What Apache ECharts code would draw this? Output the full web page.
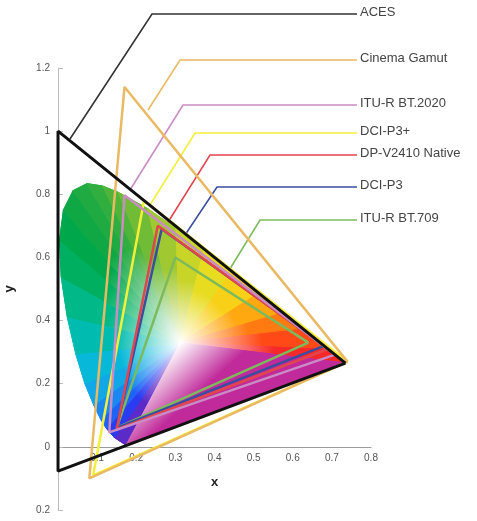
<!DOCTYPE html>
<html><head><meta charset="utf-8">
<script src="https://cdn.jsdelivr.net/npm/echarts@6/dist/echarts.min.js"></script>
<style>html,body{margin:0;background:#fff}#c{width:477px;height:521px}</style>
</head><body><div id="c"></div>
<script>
// spectral locus (x, y) and display colour
var locusX = [0.1741,0.1440,0.1241,0.1096,0.0913,0.0687,0.0454,0.0235,0.0082,0.0039,0.0139,0.0389,0.0743,0.1142,0.1547,0.2296,0.3016,0.3731,0.4441,0.5125,0.5752,0.6270,0.6915,0.7347];
var locusY = [0.0050,0.0297,0.0578,0.0868,0.1327,0.2007,0.2950,0.4127,0.5384,0.6548,0.7502,0.8120,0.8338,0.8262,0.8059,0.7543,0.6923,0.6245,0.5547,0.4866,0.4242,0.3725,0.3083,0.2653];
var locusColor = ['#5a2bc8','#2a3cf0','#1f63f5','#1988f0','#12a8e8','#08b8d8','#00bcb0','#00b888','#00b060','#00a84c','#10a845','#20aa42','#30ae40','#50b43a','#70bc36','#a0c830','#c8d428','#e8dc20','#f8d018','#ffa810','#ff7a10','#ff4a18','#f62828','#e81a3a'];
var purpleColor = '#c02a9a';

var names = ['ACES','Cinema Gamut','ITU-R BT.2020','DCI-P3+','DP-V2410 Native','DCI-P3','ITU-R BT.709'];
var colors = ['#111111','#e9b964','#c98cc4','#f4ee3c','#e2454e','#3b4d9e','#7cba5c'];
var gamutX = [[0.7347,0.0,0.0001],[0.74,0.17,0.08],[0.708,0.170,0.131],[0.74,0.22,0.09],[0.69,0.255,0.15],[0.68,0.265,0.15],[0.64,0.30,0.15]];
var gamutY = [[0.2653,1.0,-0.077],[0.27,1.14,-0.10],[0.292,0.797,0.046],[0.27,0.78,-0.09],[0.31,0.70,0.055],[0.32,0.69,0.06],[0.33,0.60,0.06]];
var xTicks = [0.1,0.2,0.3,0.4,0.5,0.6,0.7,0.8];
var labelY = [14,60,105,133,155,187,220];
var leaderElbowX = [152,180,183,195,210,217,260];
var leaderEnd = [[70,139],[148,110],[130,190],[150,205],[160,235],[145,295],[220,285]];

var chart = echarts.init(document.getElementById('c'));
var whiteX = 0.3127, whiteY = 0.329;

var series = [{
  type: 'custom', silent: true, z: 1,
  data: [[0,0]],
  renderItem: function (params, api) {
    var w = api.coord([whiteX, whiteY]);
    var children = [];
    var n = locusX.length;
    for (var i = 0; i < n; i++) {
      var j = (i + 1) % n;
      var p1 = api.coord([locusX[i], locusY[i]]);
      var p2 = api.coord([locusX[j], locusY[j]]);
      var c1 = j === 0 ? purpleColor : locusColor[i];
      var m = [(p1[0] + p2[0]) / 2, (p1[1] + p2[1]) / 2];
      var g = new echarts.graphic.LinearGradient(w[0], w[1], m[0], m[1], [
        { offset: 0, color: '#ffffff' },
        { offset: 0.6, color: c1 },
        { offset: 1, color: c1 }
      ], true);
      children.push({
        type: 'polygon',
        shape: { points: [w, p1, p2] },
        style: { fill: g, stroke: g, lineWidth: 1 }
      });
    }
    return { type: 'group', children: children };
  }
}];

names.forEach(function (nm, k) {
  var d = gamutX[k].map(function (x, i) { return [x, gamutY[k][i]]; });
  d.push(d[0]);
  series.push({
    name: nm, type: 'line', data: d, symbol: 'none', silent: true, z: 10 - k,
    lineStyle: { color: colors[k], width: k === 0 ? 3 : 2.5 }
  });
});

var graphics = [];
names.forEach(function (nm, k) {
  graphics.push({
    type: 'polyline', silent: true,
    shape: { points: [[357, labelY[k]], [leaderElbowX[k], labelY[k]], leaderEnd[k]] },
    style: { stroke: k === 0 ? '#333' : colors[k], lineWidth: 1.6, fill: null }
  });
  graphics.push({
    type: 'text', left: 360, top: labelY[k] - 8,
    style: { text: nm, fill: '#444', font: '13px "Liberation Sans", Arial' }
  });
});

chart.setOption({
  animation: false,
  grid: { left: 58, right: 106, top: 68, bottom: 11, outerBoundsMode: 'none', containLabel: false },
  xAxis: {
    type: 'value', min: 0, max: 0.8, interval: 0.1,
    axisLine: { onZero: true, lineStyle: { color: '#999' } },
    axisTick: { show: false },
    splitLine: { show: false },
    axisLabel: { show: false }
  },
  yAxis: {
    type: 'value', min: -0.2, max: 1.2, interval: 0.2,
    name: 'y', nameLocation: 'middle', nameGap: 42,
    nameTextStyle: { fontWeight: 'bold', fontSize: 13, color: '#222' },
    axisLine: { show: true, lineStyle: { color: '#bbb' } },
    axisTick: { show: true, inside: true, lineStyle: { color: '#bbb' } },
    splitLine: { show: false },
    axisLabel: { color: '#555', fontSize: 10, formatter: function (v) { return String(Math.abs(Math.round(v * 10) / 10)); } }
  },
  series: series,
  graphic: graphics
});

// x tick labels and axis name sit just under the y = 0 line
var extra = xTicks.map(function (v) {
  var p = chart.convertToPixel({ gridIndex: 0 }, [v, 0]);
  return { type: 'text', x: p[0], y: p[1] + 11, style: { text: String(v), fill: '#555', font: '10px sans-serif', align: 'center', verticalAlign: 'middle' } };
});
var pn = chart.convertToPixel({ gridIndex: 0 }, [0.4, 0]);
extra.push({ type: 'text', x: pn[0], y: pn[1] + 36, style: { text: 'x', fill: '#222', font: 'bold 13px sans-serif', align: 'center', verticalAlign: 'middle' } });
chart.setOption({ graphic: graphics.concat(extra) });
</script>
</body></html>
